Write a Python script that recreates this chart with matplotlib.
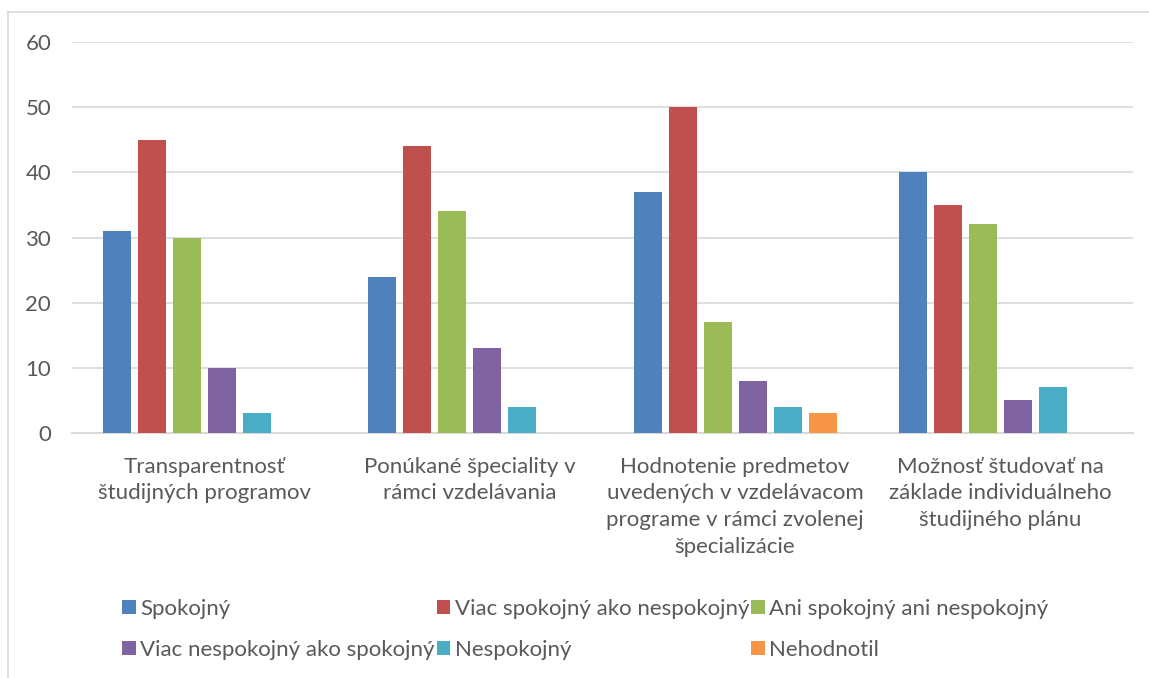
import matplotlib.pyplot as plt
from matplotlib.lines import Line2D
import numpy as np

categories = [
    'Transparentnosť\nštudijných programov',
    'Ponúkané špeciality v\nrámci vzdelávania',
    'Hodnotenie predmetov\nuvedených v vzdelávacom\nprograme v rámci zvolenej\nšpecializácie',
    'Možnosť študovať na\nzáklade individuálneho\nštudijného plánu',
]
series_names = ['Spokojný', 'Viac spokojný ako nespokojný', 'Ani spokojný ani nespokojný',
                'Viac nespokojný ako spokojný', 'Nespokojný', 'Nehodnotil']
spokojny = [31, 24, 37, 40]
viac_spokojny = [45, 44, 50, 35]
ani = [30, 34, 17, 32]
viac_nespokojny = [10, 13, 8, 5]
nespokojny = [3, 4, 4, 7]
nehodnotil = [0, 0, 3, 0]
colors = ['#4F81BD', '#C0504D', '#9BBB59', '#8064A2', '#4BACC6', '#F79646']

plt.rcParams['font.family'] = ['Lato', 'DejaVu Sans']
grey = '#595959'
fs = 16

fig = plt.figure(figsize=(11.49, 6.78), dpi=100)
ax = fig.add_axes([0.0627, 0.3614, 0.9233, 0.5766])

values = [spokojny, viac_spokojny, ani, viac_nespokojny, nespokojny, nehodnotil]
x = np.arange(len(categories))
slot = 0.132
width = 0.106
handles = []
for i, (vals, c) in enumerate(zip(values, colors)):
    b = ax.bar(x + (i - 2.5) * slot, vals, width, color=c, zorder=3)
    handles.append(b)

ax.set_xlim(-0.5, 3.5)
ax.set_ylim(0, 60)
ax.set_yticks(range(0, 61, 10))
ax.grid(axis='y', color='#D9D9D9', linewidth=1.2, zorder=0)
for s in ['top', 'right', 'left']:
    ax.spines[s].set_visible(False)
ax.spines['bottom'].set_color('#D9D9D9')
ax.spines['bottom'].set_linewidth(1.5)
ax.set_xticks(x)
ax.set_xticklabels(categories, linespacing=1.42)
ax.tick_params(axis='x', length=0, pad=17, labelsize=fs, labelcolor=grey)
ax.tick_params(axis='y', length=0, pad=15, labelsize=fs, labelcolor=grey)

# legend, filled column-wise so it reads like the reference rows
order = [0, 3, 1, 4, 2, 5]
leg = fig.legend([handles[i] for i in order], [series_names[i] for i in order],
                 ncol=3, loc='upper left', bbox_to_anchor=(0.089, 0.146),
                 frameon=False, fontsize=fs, handlelength=0.6, handleheight=0.6,
                 handletextpad=0.2, columnspacing=0.1, labelspacing=0.95)
for t in leg.get_texts():
    t.set_color(grey)

# chart area border
fig.add_artist(Line2D([0.007, 0.007], [0.0, 0.982], color='#D9D9D9', linewidth=1.2))
fig.add_artist(Line2D([0.007, 1.0], [0.982, 0.982], color='#D9D9D9', linewidth=1.2))

plt.savefig('out.png', dpi=100)
